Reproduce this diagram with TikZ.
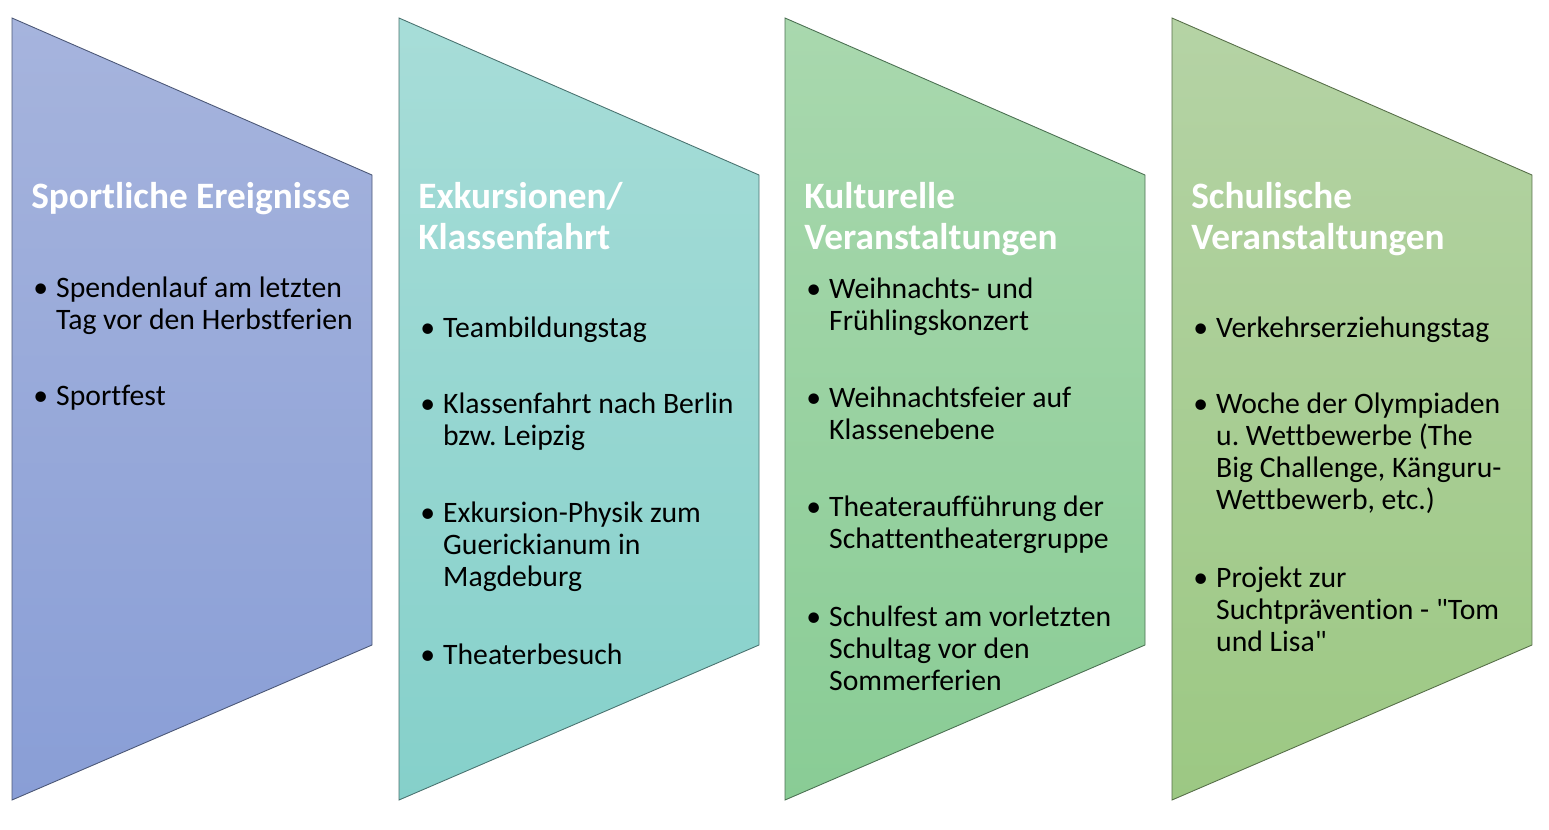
\documentclass[tikz,border=0pt]{standalone}
\usepackage{fontspec}
\setmainfont[Ligatures=NoCommon]{Carlito}
\usetikzlibrary{positioning}
\frenchspacing

\definecolor{sportTop}{RGB}{166,180,221}
\definecolor{sportBot}{RGB}{137,158,214}
\definecolor{exkTop}{RGB}{167,221,216}
\definecolor{exkBot}{RGB}{133,208,202}
\definecolor{kultTop}{RGB}{169,216,174}
\definecolor{kultBot}{RGB}{137,204,149}
\definecolor{schulTop}{RGB}{181,211,165}
\definecolor{schulBot}{RGB}{156,200,131}

\newcommand{\bul}[1]{\makebox[13pt][l]{\textbullet}\parbox[t]{7cm}{#1}}

\begin{document}
\begin{tikzpicture}[x=0.02cm, y=-0.02cm,
  panel/.style 2 args={draw=#2!55!black, line width=0.5pt, top color=#1, bottom color=#2},
  head/.style={anchor=base west, inner sep=0pt, text=white, align=left,
               font=\fontsize{21.2}{23.2}\selectfont\bfseries},
  itm/.style={anchor=base west, inner sep=0pt, font=\fontsize{16.9}{18.4}\selectfont}
]
\useasboundingbox (0,0) rectangle (1549,829);

% the four arrow-like panels
\draw[panel={sportTop}{sportBot}] (12,18) -- (372,175) -- (372,645) -- (12,800) -- cycle;
\draw[panel={exkTop}{exkBot}] (399,18) -- (759,175) -- (759,645) -- (399,800) -- cycle;
\draw[panel={kultTop}{kultBot}] (785,18) -- (1145,175) -- (1145,645) -- (785,800) -- cycle;
\draw[panel={schulTop}{schulBot}] (1172,18) -- (1532,175) -- (1532,645) -- (1172,800) -- cycle;

% Sport
\node[head] (sport) at (31,208) {Sportliche Ereignisse};
\node[itm] (lauf) at (33,297) {\bul{Spendenlauf am letzten\\Tag vor den Herbstferien}};
\node[itm] (fest) at (33,405) {\bul{Sportfest}};

% Exkursionen (base = last line)
\node[head] (exk) at (418,249) {Exkursionen/\\Klassenfahrt};
\node[itm] (team) at (420,337) {\bul{Teambildungstag}};
\node[itm] (fahrt) at (420,413) {\bul{Klassenfahrt nach Berlin\\bzw. Leipzig}};
\node[itm] (physik) at (420,522) {\bul{Exkursion-Physik zum\\Guerickianum in\\Magdeburg}};
\node[itm] (theater) at (420,664) {\bul{Theaterbesuch}};

% Kultur
\node[head] (kult) at (804,249) {Kulturelle\\Veranstaltungen};
\node[itm] (konzert) at (806,298) {\bul{Weihnachts- und\\Frühlingskonzert}};
\node[itm] (feier) at (806,407) {\bul{Weihnachtsfeier auf\\Klassenebene}};
\node[itm] (schatten) at (806,516) {\bul{Theateraufführung der\\Schattentheatergruppe}};
\node[itm] (schulfest) at (806,626) {\bul{Schulfest am vorletzten\\Schultag vor den\\Sommerferien}};

% Schule
\node[head] (schul) at (1191,249) {Schulische\\Veranstaltungen};
\node[itm] (verkehr) at (1193,337) {\bul{Verkehrserziehungstag}};
\node[itm] (olymp) at (1193,413) {\bul{Woche der Olympiaden\\u. Wettbewerbe (The\\Big Challenge, Känguru-\\Wettbewerb, etc.)}};
\node[itm] (sucht) at (1193,587) {\bul{Projekt zur\\Suchtprävention - \textquotedbl Tom\\und Lisa\textquotedbl}};
\end{tikzpicture}
\end{document}
